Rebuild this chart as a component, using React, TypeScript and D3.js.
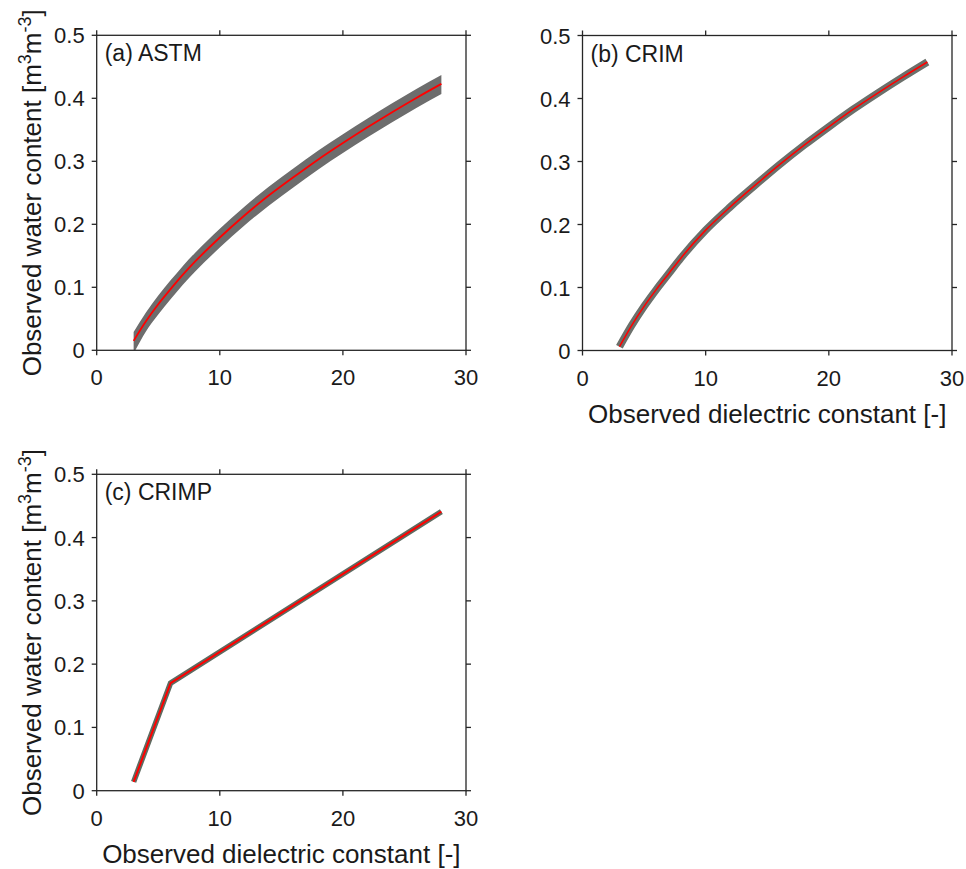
import React from 'react';
import * as d3 from 'd3';

// ---- data ----
const xTicks = [0, 10, 20, 30];
const yTicks = [0, 0.1, 0.2, 0.3, 0.4, 0.5];
const yTickLabels = ['0', '0.1', '0.2', '0.3', '0.4', '0.5'];
const xTickLabels = ['0', '10', '20', '30'];

const astmEps = [3, 4, 5, 6, 7, 8, 10, 12, 14, 16, 18, 20, 22, 24, 26, 28];
const astmMedian = [0.015, 0.046, 0.073, 0.097, 0.120, 0.141, 0.179, 0.214, 0.246, 0.275, 0.303, 0.329, 0.354, 0.378, 0.401, 0.423];
const astmUpper = [0.029, 0.060, 0.087, 0.111, 0.134, 0.155, 0.193, 0.228, 0.260, 0.289, 0.317, 0.343, 0.368, 0.392, 0.415, 0.437];
const astmLower = [-0.005, 0.030, 0.057, 0.081, 0.104, 0.125, 0.163, 0.198, 0.230, 0.259, 0.287, 0.313, 0.338, 0.362, 0.385, 0.407];

const crimEps = [3, 4, 5, 6, 7, 8, 10, 12, 14, 16, 18, 20, 22, 24, 26, 28];
const crimMedian = [0.006, 0.040, 0.070, 0.097, 0.122, 0.147, 0.191, 0.228, 0.262, 0.295, 0.326, 0.355, 0.383, 0.409, 0.434, 0.458];

const crimpEps = [3, 6, 28];
const crimpMedian = [0.014, 0.170, 0.441];

const panelTitles = ['(a) ASTM', '(b) CRIM', '(c) CRIMP'];
const xLabel = 'Observed dielectric constant [-]';

const FONT = 'Liberation Sans, Arial, Helvetica, sans-serif';
const AX = '#262626';

type PanelProps = {
  id: string;
  left: number; top: number; width: number; height: number;
  title: string;
  showXLabel: boolean; showYLabel: boolean;
  children: (x: d3.ScaleLinear<number, number>, y: d3.ScaleLinear<number, number>) => React.ReactNode;
};

function Panel({ id, left, top, width, height, title, showXLabel, showYLabel, children }: PanelProps) {
  const x = d3.scaleLinear().domain([0, 30]).range([left, left + width]);
  const y = d3.scaleLinear().domain([0, 0.5]).range([top + height, top]);
  const tl = 5;
  const bottom = top + height;
  const right = left + width;
  const cy = top + height / 2;
  return (
    <g>
      <defs>
        <clipPath id={id}>
          <rect x={left} y={top} width={width} height={height} />
        </clipPath>
      </defs>
      <g clipPath={`url(#${id})`}>{children(x, y)}</g>
      <rect x={left} y={top} width={width} height={height} fill="none" stroke={AX} strokeWidth={1.3} />
      {xTicks.map((t, i) => (
        <g key={'xt' + i}>
          <line x1={x(t)} x2={x(t)} y1={bottom} y2={bottom + tl} stroke={AX} strokeWidth={1.3} />
          <line x1={x(t)} x2={x(t)} y1={top} y2={top - tl} stroke={AX} strokeWidth={1.3} />
          <text x={x(t)} y={bottom + 35} textAnchor="middle" fontSize={22} fontFamily={FONT} fill="#1a1a1a">{xTickLabels[i]}</text>
        </g>
      ))}
      {yTicks.map((t, i) => (
        <g key={'yt' + i}>
          <line x1={left - tl} x2={left} y1={y(t)} y2={y(t)} stroke={AX} strokeWidth={1.3} />
          <line x1={right} x2={right + tl} y1={y(t)} y2={y(t)} stroke={AX} strokeWidth={1.3} />
          <text x={left - 12} y={y(t) + 8} textAnchor="end" fontSize={22} fontFamily={FONT} fill="#1a1a1a">{yTickLabels[i]}</text>
        </g>
      ))}
      <text x={left + 8} y={top + 26} fontSize={23} fontFamily={FONT} fill="#1a1a1a">{title}</text>
      {showXLabel && (
        <text x={left + width / 2} y={bottom + 72.5} textAnchor="middle" fontSize={26} fontFamily={FONT} fill="#1a1a1a">{xLabel}</text>
      )}
      {showYLabel && (
        <text transform={`translate(41,${cy}) rotate(-90)`} textAnchor="middle" fontSize={26} fontFamily={FONT} fill="#1a1a1a">
          Observed water content [m<tspan dy={-10} fontSize={18}>3</tspan><tspan dy={10}>m</tspan><tspan dy={-10} fontSize={18}>-3</tspan><tspan dy={10}>]</tspan>
        </text>
      )}
    </g>
  );
}

export default function App() {
  const curve = d3.curveMonotoneX;
  return (
    <svg width={966} height={869} style={{ position: 'absolute', left: 0, top: 0, background: '#fff' }}>
      <rect width={966} height={869} fill="#fff" />
      <Panel id="clipA" left={96.7} top={35.3} width={369.3} height={315} title={panelTitles[0]} showXLabel={false} showYLabel={true}>
        {(x, y) => {
          const area = d3.area<number>().x((_, i) => x(astmEps[i])).y0((_, i) => y(astmLower[i])).y1((_, i) => y(astmUpper[i])).curve(curve);
          const line = d3.line<number>().x((_, i) => x(astmEps[i])).y((d) => y(d)).curve(curve);
          return (
            <g>
              <path d={area(astmMedian) || ''} fill="#6d6d6d" />
              <path d={line(astmMedian) || ''} fill="none" stroke="#ff0000" strokeWidth={1.8} />
            </g>
          );
        }}
      </Panel>
      <Panel id="clipB" left={582.5} top={35.5} width={369.5} height={315} title={panelTitles[1]} showXLabel={true} showYLabel={false}>
        {(x, y) => {
          const line = d3.line<number>().x((_, i) => x(crimEps[i])).y((d) => y(d)).curve(curve);
          const d = line(crimMedian) || '';
          return (
            <g>
              <path d={d} fill="none" stroke="#6b706b" strokeWidth={7.5} />
              <path d={d} fill="none" stroke="#ff0000" strokeWidth={1.6} />
            </g>
          );
        }}
      </Panel>
      <Panel id="clipC" left={96.7} top={474.3} width={369.3} height={316.4} title={panelTitles[2]} showXLabel={true} showYLabel={true}>
        {(x, y) => {
          const line = d3.line<number>().x((_, i) => x(crimpEps[i])).y((d) => y(d));
          const d = line(crimpMedian) || '';
          return (
            <g>
              <path d={d} fill="none" stroke="#5f6a60" strokeWidth={5.5} />
              <path d={d} fill="none" stroke="#ff0000" strokeWidth={2} />
            </g>
          );
        }}
      </Panel>
    </svg>
  );
}
